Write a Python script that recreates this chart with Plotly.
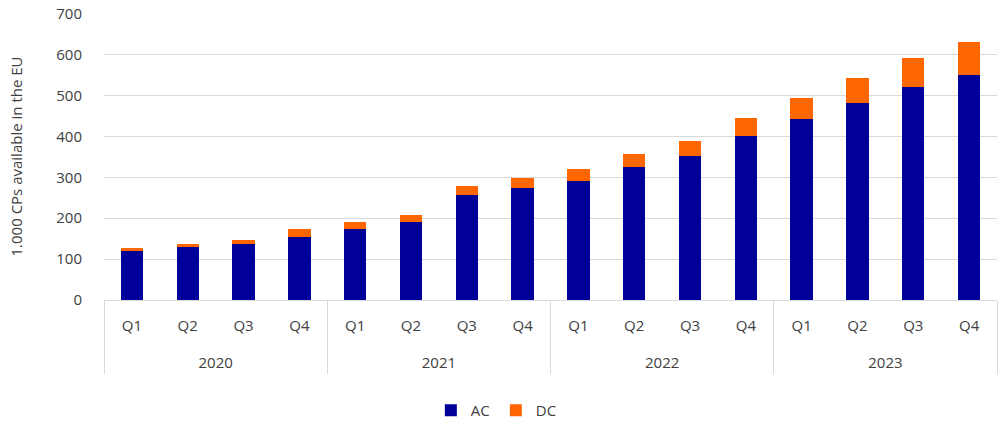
import plotly.graph_objects as go

years = ["2020", "2021", "2022", "2023"]
quarters = ["Q1", "Q2", "Q3", "Q4"]
ac = [119, 129, 137, 155, 173, 190, 258, 275, 292, 326, 352, 400, 442, 481, 522, 550]
dc = [7, 9, 10, 18, 17, 18, 22, 24, 28, 30, 38, 46, 53, 61, 71, 82]
y_ticks = [0, 100, 200, 300, 400, 500, 600, 700]

cats = [f"{y} {q}" for y in years for q in quarters]
q_text = [q for y in years for q in quarters]
n_q = len(quarters)
year_centers = [i * n_q + (n_q - 1) / 2 for i in range(len(years))]
dividers = [i * n_q - 0.5 for i in range(len(years) + 1)]

TXT = "#404040"
GRID = "#d9d9d9"

fig = go.Figure()
fig.add_trace(go.Bar(x=cats, y=ac, name="AC", marker=dict(color="#000099", line=dict(width=0))))
fig.add_trace(go.Bar(x=cats, y=dc, name="DC", marker=dict(color="#FF6600", line=dict(width=0))))

fig.update_layout(
    width=1000, height=439,
    barmode="stack", bargap=0.6,
    plot_bgcolor="white", paper_bgcolor="white",
    margin=dict(l=104, r=3, t=11, b=139),
    font=dict(family="Open Sans", size=15, color=TXT),
    legend=dict(orientation="h", x=0.366, xanchor="left", y=-0.385, yanchor="middle",
                font=dict(size=15, color=TXT), itemwidth=30, traceorder="normal",
                entrywidth=20, entrywidthmode="pixels"),
    showlegend=True,
    xaxis=dict(type="category", tickvals=cats, ticktext=q_text, range=[-0.5, len(cats) - 0.5],
               showline=True, linecolor=GRID, linewidth=1, showgrid=False,
               ticks="outside", ticklen=12, tickcolor="rgba(0,0,0,0)"),
    xaxis2=dict(overlaying="x", anchor="y", side="bottom", type="linear",
                range=[-0.5, len(cats) - 0.5], tickvals=year_centers, ticktext=years,
                showgrid=False, zeroline=False, showline=False,
                ticks="outside", ticklen=49, tickcolor="rgba(0,0,0,0)",
                minor=dict(tickvals=dividers, ticks="outside", ticklen=73,
                           tickcolor=GRID, tickwidth=1, showgrid=False)),
    yaxis=dict(range=[0, 702], tickvals=y_ticks, showgrid=True, gridcolor=GRID,
               gridwidth=1, zeroline=False, ticks="outside", ticklen=18,
               tickcolor="rgba(0,0,0,0)",
               title=dict(text="1.000 CPs available in the EU", font=dict(size=15, color=TXT),
                          standoff=30)),
)
# invisible trace so the second x axis is drawn
fig.add_trace(go.Scatter(x=year_centers, y=[0] * len(years), xaxis="x2", mode="markers",
                         marker=dict(opacity=0), showlegend=False, hoverinfo="skip"))

fig.write_html("out.html", config={"displayModeBar": False},
               post_script="document.body.style.margin='0';")
